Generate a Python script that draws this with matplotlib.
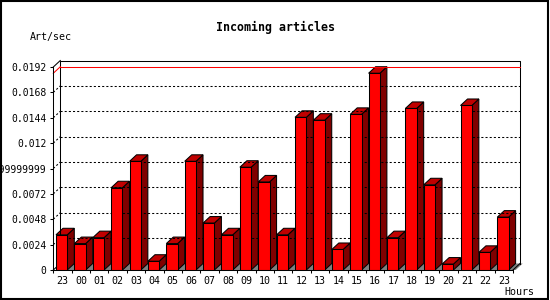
import matplotlib.pyplot as plt
from matplotlib.patches import Polygon, Rectangle
from matplotlib.transforms import ScaledTranslation

# Incoming articles per hour (articles/sec)
hours = ["23", "00", "01", "02", "03", "04", "05", "06", "07", "08", "09", "10",
         "11", "12", "13", "14", "15", "16", "17", "18", "19", "20", "21", "22", "23"]
rates = [0.00333, 0.0025, 0.00306, 0.00778, 0.01028, 0.00083, 0.0025, 0.01028,
         0.00444, 0.00333, 0.00972, 0.00833, 0.00333, 0.01444, 0.01417, 0.00194,
         0.01472, 0.01861, 0.00306, 0.01528, 0.00806, 0.00056, 0.01556, 0.00167,
         0.005]
y_ticks = [0, 0.0024, 0.0048, 0.0072, 0.0096, 0.012, 0.0144, 0.0168, 0.0192]
y_labels = ["0", "0.0024", "0.0048", "0.0072", "0.00959999999999999",
            "0.012", "0.0144", "0.0168", "0.0192"]

FONT = "DejaVu Sans Mono"
W, H = 550, 300
DX, DY = 7, 6.5  # 3d depth in pixels

fig = plt.figure(figsize=(5.5, 3), dpi=100)
left, right, bottom, top = 53.3, 513, 270, 67
ax = fig.add_axes([left / W, 1 - bottom / H, (right - left) / W, (bottom - top) / H])
n = len(rates)
ax.set_xlim(-0.5, n - 0.5)
ax.set_ylim(0, 0.0192)
ax.patch.set_visible(False)

# depth converted to data units
dxu = DX / ((right - left) / n)
dyu = DY / ((bottom - top) / 0.0192)
back = ax.transData + ScaledTranslation(DX / 100, DY / 100, fig.dpi_scale_trans)
lw = 0.75
x0, x1 = -0.5, n - 0.5
ymax = 0.0192

# back plane frame
ax.plot([x0, x0, x1, x1], [0, ymax, ymax, 0], color="black", lw=lw,
        transform=back, clip_on=False)
ax.plot([x0, x0 + dxu], [ymax, ymax + dyu], color="black", lw=lw, clip_on=False)
ax.plot([x1, x1 + dxu], [0, dyu], color="black", lw=lw, clip_on=False)
ax.plot([x0, x0 + dxu], [0, dyu], color="black", lw=lw, clip_on=False)

# grid on back plane
for t in y_ticks[1:-1]:
    ax.plot([x0, x1], [t, t], color="black", lw=lw, ls=(0, (2, 2)),
            transform=back, clip_on=False)
    ax.plot([x0, x0 + dxu], [t, t + dyu], color="black", lw=lw, ls=(0, (2, 2)),
            clip_on=False)

# max line
m = max(rates)
ax.plot([x0, x1], [m, m], color="red", lw=lw, transform=back, clip_on=False)
ax.plot([x0, x0 + dxu], [m, m + dyu], color="red", lw=lw, clip_on=False)

# 3d bars
bw = 0.614
for i, v in enumerate(rates):
    xl = i - 0.353
    xr = xl + bw
    gap = 1 - bw
    ax.add_patch(Polygon([(xr, 0), (xr + gap, 0), (xr + gap + dxu, dyu), (xr + dxu, dyu)],
                         closed=True, facecolor="#808080", edgecolor="none", clip_on=False))
    ax.add_patch(Polygon([(xr, 0), (xr + dxu, dyu), (xr + dxu, v + dyu), (xr, v)],
                         closed=True, facecolor="#800000", edgecolor="black", lw=lw,
                         clip_on=False))
    ax.add_patch(Polygon([(xl, v), (xr, v), (xr + dxu, v + dyu), (xl + dxu, v + dyu)],
                         closed=True, facecolor="#c00000", edgecolor="black", lw=lw,
                         clip_on=False))
ax.bar([i - 0.353 + bw / 2 for i in range(n)], rates, width=bw, color="red",
       edgecolor="black", linewidth=lw, zorder=3)

# axes
for s in ["top", "right"]:
    ax.spines[s].set_visible(False)
ax.spines["left"].set_linewidth(lw)
ax.spines["bottom"].set_linewidth(lw)
ax.spines["left"].set_zorder(4)
ax.spines["bottom"].set_zorder(4)
ax.set_yticks(y_ticks)
ax.set_yticklabels(y_labels, family=FONT, fontsize=7)
ax.set_xticks(range(n))
ax.set_xticklabels(hours, family=FONT, fontsize=7.2)
ax.set_xticks([i - 0.5 for i in range(n + 1)], minor=True)
ax.tick_params(axis="y", direction="out", length=2.5, width=lw, pad=2.5)
ax.tick_params(axis="x", which="major", length=0, pad=4)
ax.tick_params(axis="x", which="minor", direction="out", length=2.5, width=lw)

fig.text(275 / W, 1 - 27 / H, "Incoming articles", family=FONT, weight="bold",
         fontsize=8.4, ha="center", va="center")
fig.text(30 / W, 1 - 37 / H, "Art/sec", family=FONT, fontsize=7.2, va="center")
fig.text(534 / W, 1 - 292 / H, "Hours", family=FONT, fontsize=7.2, ha="right",
         va="center")

fig.add_artist(Rectangle((0.5 / W, 1.5 / H), 547.5 / W, 297.5 / H,
                         transform=fig.transFigure, fill=False, edgecolor="black",
                         lw=1.5))

fig.savefig("out.png", dpi=100)
